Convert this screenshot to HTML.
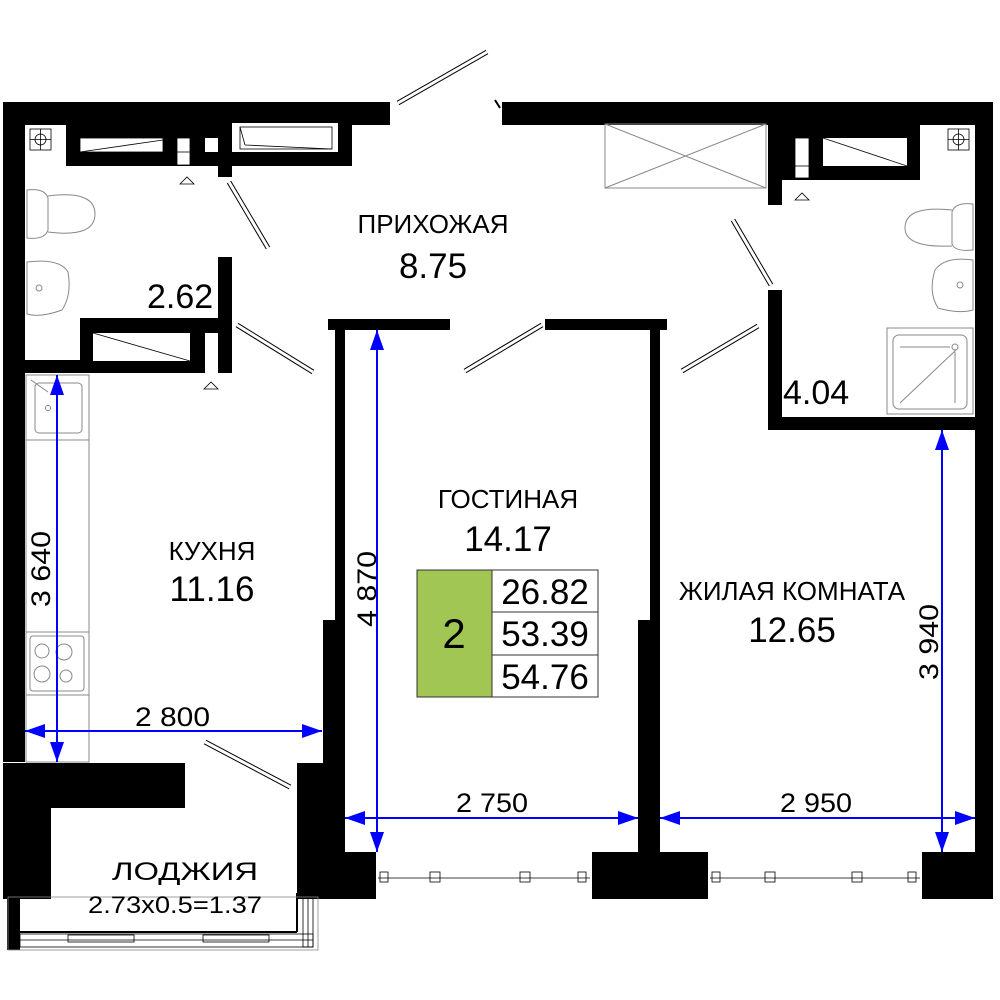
<!DOCTYPE html>
<html><head><meta charset="utf-8"><style>
html,body{margin:0;padding:0;background:#fff}
svg{display:block}
text{font-family:"Liberation Sans",sans-serif;fill:#000}
</style></head><body>
<svg width="1000" height="1000" viewBox="0 0 1000 1000" xmlns="http://www.w3.org/2000/svg">
<defs>
<marker id="ar" markerWidth="20" markerHeight="14" refX="20" refY="7" orient="auto-start-reverse" markerUnits="userSpaceOnUse"><path d="M0,0 L20,7 L0,14 Z" fill="#0000ff"/></marker>
</defs>
<g fill="#000">
<rect x="3" y="102" width="387" height="23"/>
<rect x="502" y="102" width="491" height="23"/>
<rect x="3" y="102" width="22" height="660"/>
<rect x="975" y="102" width="18" height="797"/>
<rect x="66" y="123" width="286" height="43"/>
<rect x="218" y="160" width="14" height="17"/>
<rect x="218" y="257" width="14" height="116"/>
<rect x="80" y="318" width="152" height="55"/>
<rect x="25" y="360" width="207" height="13"/>
<rect x="335" y="320" width="10" height="579"/>
<rect x="323" y="620" width="22" height="279"/>
<rect x="328" y="319" width="122" height="11"/>
<rect x="545" y="319" width="122" height="11"/>
<rect x="650" y="320" width="10" height="532"/>
<rect x="638" y="620" width="22" height="232"/>
<rect x="768" y="123" width="152" height="57"/>
<rect x="768" y="123" width="14" height="82"/>
<rect x="768" y="290" width="14" height="140"/>
<rect x="768" y="417" width="207" height="13"/>
<rect x="345" y="852" width="648" height="47"/>
<rect x="25" y="763" width="160" height="45"/>
<rect x="3" y="763" width="48" height="136"/>
<rect x="7" y="893" width="13" height="57"/>
<rect x="297" y="763" width="48" height="136"/>
</g>
<g fill="#fff">
<rect x="80" y="138" width="83" height="14"/><rect x="177" y="138" width="13" height="27"/><rect x="205" y="138" width="13" height="14"/>
<rect x="232" y="123" width="106" height="29"/>
<rect x="93" y="333" width="97" height="28"/><rect x="205" y="333" width="13" height="40"/>
<rect x="795" y="138" width="14" height="40"/><rect x="823" y="138" width="84" height="28"/>
<rect x="376" y="852" width="216" height="47"/><rect x="708" y="852" width="214" height="47"/>
</g>
<g fill="none" stroke="#000" stroke-width="0.8">
<rect x="80" y="138" width="83" height="14"/><line x1="80" y1="152" x2="163" y2="140"/>
<rect x="177" y="138" width="13" height="27"/><line x1="177" y1="152" x2="190" y2="152"/>
<rect x="240" y="127" width="92" height="22"/><line x1="240" y1="127" x2="245" y2="145"/><line x1="245" y1="145" x2="332" y2="149"/>
<line x1="93" y1="333" x2="190" y2="361"/>
<line x1="823" y1="138" x2="907" y2="166"/>
<rect x="795" y="138" width="14" height="40"/><line x1="795" y1="166" x2="809" y2="166"/>
<path d="M180 184 L187 177 L194 184 Z"/><path d="M204 389 L211 382 L218 389 Z"/><path d="M795 200 L802 193 L809 200 Z"/>
<rect x="30" y="129" width="21" height="21"/><circle cx="40.5" cy="139.5" r="5.5"/><line x1="30" y1="139.5" x2="51" y2="139.5"/><line x1="40.5" y1="129" x2="40.5" y2="150"/>
<rect x="948" y="129" width="21" height="21"/><circle cx="958.5" cy="139.5" r="5.5"/><line x1="948" y1="139.5" x2="969" y2="139.5"/><line x1="958.5" y1="129" x2="958.5" y2="150"/>
<line x1="378" y1="878" x2="590" y2="878"/><line x1="710" y1="878" x2="920" y2="878"/>
<rect x="380" y="872" width="8" height="10"/><rect x="430" y="872" width="10" height="10"/><rect x="520" y="872" width="10" height="10"/><rect x="578" y="872" width="8" height="10"/>
<rect x="712" y="872" width="8" height="10"/><rect x="765" y="872" width="10" height="10"/><rect x="852" y="872" width="10" height="10"/><rect x="908" y="872" width="8" height="10"/>
<line x1="20" y1="932" x2="297" y2="932" stroke-width="2"/><line x1="297" y1="893" x2="297" y2="932" stroke-width="2"/>
<rect x="20" y="934" width="293" height="13"/><line x1="20" y1="940" x2="313" y2="940"/>
<rect x="68" y="935" width="66" height="7"/><rect x="203" y="935" width="66" height="7"/>
<rect x="303" y="897" width="10" height="50"/><line x1="308" y1="897" x2="308" y2="947"/>
<rect x="8" y="897" width="310" height="53" stroke="#888"/>
</g>
<g fill="none" stroke="#888" stroke-width="1">
<rect x="605" y="124" width="161" height="64"/><line x1="605" y1="124" x2="766" y2="188"/><line x1="766" y1="124" x2="605" y2="188"/>
<path d="M27 190 Q45 188 48 198 L48 230 Q45 240 27 238 Z"/><path d="M48 196 Q95 190 95 214 Q95 238 48 232"/>
<path d="M27 262 Q60 258 68 272 Q72 295 62 310 Q40 318 27 314 Z"/><circle cx="39" cy="288" r="3"/>
<path d="M973 204 Q955 202 952 212 L952 244 Q955 252 973 250 Z"/><path d="M952 210 Q905 205 905 228 Q905 248 952 246"/>
<path d="M973 260 Q945 256 935 270 Q928 292 938 308 Q958 314 973 310 Z"/><circle cx="960" cy="285" r="3"/>
<rect x="887" y="328" width="86" height="86"/><rect x="893" y="335" width="74" height="74" rx="6"/>
<line x1="900" y1="347" x2="950" y2="347"/><line x1="956" y1="350" x2="900" y2="403"/><line x1="955" y1="352" x2="955" y2="403"/><circle cx="955" cy="347" r="3"/>
<rect x="26" y="375" width="63" height="387"/><line x1="26" y1="440" x2="89" y2="440"/><line x1="26" y1="632" x2="89" y2="632"/><line x1="26" y1="695" x2="89" y2="695"/>
<rect x="35" y="383" width="47" height="50" rx="4"/><circle cx="48" cy="408" r="2.5"/><line x1="31" y1="380" x2="48" y2="392"/>
<rect x="30" y="636" width="54" height="55" rx="3"/><circle cx="42" cy="651" r="7"/><circle cx="64" cy="652" r="8"/><circle cx="42" cy="674" r="8"/><circle cx="66" cy="676" r="6"/>
</g>
<g fill="#fff" stroke="#000" stroke-width="1">
<line x1="398" y1="103" x2="487" y2="52" stroke-width="5"/><line x1="398" y1="103" x2="487" y2="52" stroke="#fff" stroke-width="3"/>
<line x1="229" y1="182" x2="268" y2="248" stroke-width="5"/><line x1="229" y1="182" x2="268" y2="248" stroke="#fff" stroke-width="3"/>
<line x1="237" y1="325" x2="313" y2="372" stroke-width="5"/><line x1="237" y1="325" x2="313" y2="372" stroke="#fff" stroke-width="3"/>
<line x1="542" y1="325" x2="465" y2="371" stroke-width="5"/><line x1="542" y1="325" x2="465" y2="371" stroke="#fff" stroke-width="3"/>
<line x1="758" y1="326" x2="682" y2="371" stroke-width="5"/><line x1="758" y1="326" x2="682" y2="371" stroke="#fff" stroke-width="3"/>
<line x1="771" y1="285" x2="733" y2="220" stroke-width="5"/><line x1="771" y1="285" x2="733" y2="220" stroke="#fff" stroke-width="3"/>
<line x1="290" y1="787" x2="205" y2="742" stroke-width="5"/><line x1="290" y1="787" x2="205" y2="742" stroke="#fff" stroke-width="3"/>
<line x1="495" y1="100" x2="500" y2="108" stroke-width="2"/>
</g>
<g stroke="#0000ff" stroke-width="2" fill="none">
<line x1="57" y1="375" x2="57" y2="762" marker-start="url(#ar)" marker-end="url(#ar)"/>
<line x1="25" y1="731" x2="322" y2="731" marker-start="url(#ar)" marker-end="url(#ar)"/>
<line x1="377" y1="330" x2="377" y2="852" marker-start="url(#ar)" marker-end="url(#ar)"/>
<line x1="345" y1="818" x2="638" y2="818" marker-start="url(#ar)" marker-end="url(#ar)"/>
<line x1="660" y1="818" x2="975" y2="818" marker-start="url(#ar)" marker-end="url(#ar)"/>
<line x1="942" y1="430" x2="942" y2="852" marker-start="url(#ar)" marker-end="url(#ar)"/>
</g>
<g font-size="27">
<text x="135" y="726" textLength="75" lengthAdjust="spacingAndGlyphs">2 800</text>
<text x="456" y="812" textLength="72" lengthAdjust="spacingAndGlyphs">2 750</text>
<text x="780" y="812" textLength="72" lengthAdjust="spacingAndGlyphs">2 950</text>
<text transform="translate(50,607) rotate(-90)" textLength="76" lengthAdjust="spacingAndGlyphs">3 640</text>
<text transform="translate(376,627) rotate(-90)" textLength="76" lengthAdjust="spacingAndGlyphs">4 870</text>
<text transform="translate(938,680) rotate(-90)" textLength="76" lengthAdjust="spacingAndGlyphs">3 940</text>
</g>
<g text-anchor="middle">
<text x="433" y="233" font-size="26">ПРИХОЖАЯ</text>
<text x="433" y="278" font-size="35">8.75</text>
<text x="212" y="560" font-size="26">КУХНЯ</text>
<text x="212" y="601" font-size="35">11.16</text>
<text x="508" y="508" font-size="26">ГОСТИНАЯ</text>
<text x="508" y="551" font-size="35">14.17</text>
<text x="792" y="600" font-size="26">ЖИЛАЯ КОМНАТА</text>
<text x="792" y="642" font-size="35">12.65</text>
</g>
<text x="112" y="880" font-size="25" textLength="146" lengthAdjust="spacingAndGlyphs">ЛОДЖИЯ</text>
<text x="88" y="913" font-size="24" textLength="174" lengthAdjust="spacingAndGlyphs">2.73x0.5=1.37</text>
<text x="147" y="308" font-size="34">2.62</text>
<text x="783" y="404" font-size="34">4.04</text>
<rect x="417" y="570" width="75" height="127" fill="#a2c654" stroke="#333" stroke-width="1"/>
<rect x="492" y="570" width="106" height="42" fill="#fff" stroke="#333" stroke-width="1"/>
<rect x="492" y="612" width="106" height="43" fill="#fff" stroke="#333" stroke-width="1"/>
<rect x="492" y="655" width="106" height="42" fill="#fff" stroke="#333" stroke-width="1"/>
<g text-anchor="middle" font-size="35">
<text x="454" y="648" font-size="42">2</text>
<text x="545" y="604">26.82</text>
<text x="545" y="646">53.39</text>
<text x="545" y="689">54.76</text>
</g>
</svg>
</body></html>
